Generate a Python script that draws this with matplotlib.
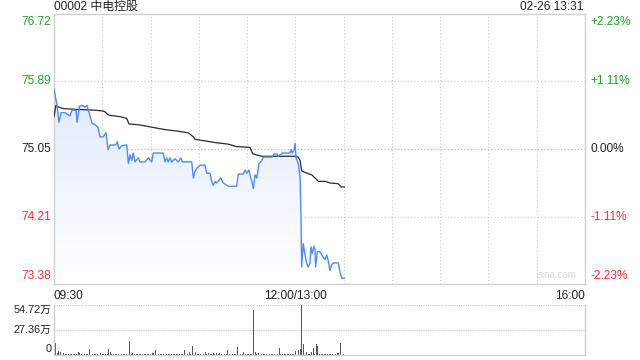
import numpy as np
import matplotlib
matplotlib.use("Agg")
import matplotlib.pyplot as plt

plt.rcParams['font.family'] = ['Liberation Sans', 'Noto Sans CJK SC', 'DejaVu Sans']

# --- data ---
prev_close = 75.05
y_ticks = [73.38, 74.21, 75.05, 75.89, 76.72]
y_labels = ["73.38", "74.21", "75.05", "75.89", "76.72"]
pct_labels = ["-2.23%", "-1.11%", "0.00%", "+1.11%", "+2.23%"]

# minutes since 09:30 (trading minutes, lunch removed)
price_min = [0, 1.9, 3.1, 4.4, 6.8, 9.9, 11.2, 13.7, 14.3, 15.8, 17.4, 19.3, 20.5, 21.8,
             23.6, 25.5, 27.3, 28.6, 30.5, 32.3, 33.6, 34.8, 38.3, 39.3, 40.4, 42.1, 45.2,
             46.2, 47.2, 48.3, 49.3, 50.3, 52.4, 53.4, 56.6, 58.6, 60.7, 61.7, 67.9, 69,
             70, 71, 72.1, 73.1, 75.2, 77.1, 78.9, 79.7, 85.6, 86.6, 87.6, 88.7, 90.7,
             93.8, 94.9, 96.9, 98, 99, 100.1, 101.1, 103.6, 105.2, 108.3, 113.5, 114.5,
             117.6, 118.7, 119.8, 121.2, 121.8, 122.9, 123.9, 124.9, 126, 127.4, 128.6,
             130.1, 135.3, 136.9, 138.6, 139.4, 141.9, 146.7, 147.3, 148.1, 149.2, 149.8,
             150.4, 151.8, 152.9, 153.5, 153.9, 154.9, 156, 157, 158, 159.1, 159.7, 160.5,
             161.6, 162.2, 162.6, 163.6, 165.3, 166.4, 168.4, 169.5, 170.5, 171.5, 172.6,
             173.6, 176.7, 177.7, 178.8, 180.4]
price_val = [75.79, 75.59, 75.38, 75.50, 75.50, 75.46, 75.53, 75.53, 75.38, 75.58, 75.59,
             75.57, 75.59, 75.50, 75.37, 75.35, 75.32, 75.20, 75.20, 75.25, 75.04, 75.10,
             75.10, 75.14, 75.05, 75.09, 75.10, 74.87, 74.98, 74.91, 75.00, 74.89, 74.94,
             74.89, 74.89, 74.94, 74.89, 75.00, 75.00, 74.89, 74.94, 74.89, 74.94, 74.89,
             74.93, 74.89, 74.94, 74.89, 74.89, 74.69, 74.77, 74.81, 74.85, 74.85, 74.75,
             74.75, 74.65, 74.60, 74.65, 74.63, 74.69, 74.63, 74.59, 74.59, 74.74, 74.74,
             74.79, 74.75, 74.79, 74.73, 74.65, 74.56, 74.73, 74.69, 74.87, 74.89, 74.95,
             74.95, 74.99, 74.99, 74.96, 75.00, 75.00, 75.04, 75.00, 75.04, 75.12, 74.94,
             74.87, 74.71, 74.21, 73.59, 73.88, 73.74, 73.64, 73.59, 73.64, 73.84, 73.76,
             73.85, 73.80, 73.59, 73.78, 73.78, 73.74, 73.68, 73.74, 73.66, 73.55, 73.62,
             73.64, 73.64, 73.53, 73.45, 73.45]

avg_min = [0, 1.2, 2.7, 5.8, 14.1, 25.5, 30.6, 31.7, 33.7, 41, 45.2, 46.6, 52.4, 55.5,
           60.7, 69, 77.2, 83.5, 86.6, 87.6, 93.8, 100.1, 108.3, 113.5, 121.8, 123.5,
           129.1, 149.8, 151.8, 152.9, 153.9, 154.9, 156, 160.2, 163.3, 164.3, 168.4,
           171.5, 176.7, 178.4, 180.4]
avg_val = [75.45, 75.59, 75.57, 75.55, 75.54, 75.53, 75.52, 75.51, 75.47, 75.45, 75.43,
           75.36, 75.35, 75.34, 75.32, 75.29, 75.27, 75.25, 75.20, 75.17, 75.15, 75.13,
           75.11, 75.08, 75.07, 74.99, 74.96, 74.96, 74.95, 74.91, 74.78, 74.77, 74.76,
           74.73, 74.67, 74.65, 74.65, 74.63, 74.62, 74.58, 74.58]

# volume per minute, in 万
volume = [13.5, 13.2, 2.0, 4.7, 3.6, 1.5, 1.8, 0.8, 1.2, 0.6,
          1.0, 0.7, 1.5, 0.9, 1.2, 2.9, 2.5, 1.0, 2.2, 0.8,
          1.1, 0.6, 6.6, 1.2, 0.9, 1.5, 0.7, 1.0, 0.8, 2.5,
          1.0, 1.5, 0.8, 1.2, 6.6, 3.0, 1.1, 0.7, 1.3, 0.9,
          0.8, 1.2, 0.6, 1.0, 1.4, 0.8, 1.1, 15.3, 1.0, 2.5,
          1.2, 0.8, 1.0, 0.7, 1.3, 0.9, 1.1, 0.8, 1.5, 1.0,
          0.9, 2.5, 2.0, 5.5, 3.0, 1.2, 0.8, 1.0, 0.7, 0.9,
          1.1, 0.8, 0.6, 1.0, 0.9, 1.2, 0.7, 0.8, 1.0, 1.3,
          0.9, 5.5, 1.0, 1.4, 3.0, 1.2, 10.2, 11.7, 3.5, 1.0,
          0.8, 1.2, 1.0, 1.5, 3.0, 1.1, 2.0, 0.9, 1.2, 2.5,
          1.0, 2.0, 0.8, 2.5, 1.1, 0.9, 1.3, 0.8, 5.5, 1.0,
          3.0, 1.2, 1.0, 0.8, 9.1, 1.4, 1.0, 0.9, 3.0, 0.7,
          1.5, 1.0, 0.8, 1.2, 49.2, 3.0, 1.0, 2.0, 1.1, 0.8,
          1.0, 0.9, 1.2, 0.7, 1.1, 0.8, 1.3, 0.9, 1.0, 1.2,
          8.0, 1.0, 0.8, 1.2, 0.9, 1.1, 0.8, 1.5, 1.0, 1.3,
          4.4, 1.2, 5.5, 6.7, 54.72, 12.0, 1.5, 3.0, 1.2, 1.0,
          3.5, 7.3, 1.2, 12.0, 10.2, 1.0, 0.8, 1.5, 0.9, 1.1,
          0.8, 1.2, 1.0, 0.9, 1.3, 0.8, 2.0, 2.5, 13.5, 2.0,
          1.5]
vol_ticks = [0, 27.36, 54.72]
vol_labels = ["0", "27.36万", "54.72万"]

x_tick_pos = [0, 150, 330]
x_tick_labels = ["09:30", "12:00/13:00", "16:00"]

GREEN = "#1fa51f"
RED = "#f23030"
GRID = "#c8c8c8"
FRAME = "#cfcfcf"
FS = 8.6

fig = plt.figure(figsize=(6.4, 3.6), dpi=100)
ax = fig.add_axes([54 / 640, 1 - 284 / 360, 531 / 640, 270 / 360])
axv = fig.add_axes([54 / 640, 1 - 355 / 360, 531 / 640, 50 / 360])

# --- price panel ---
ax.set_xlim(0, 330)
ax.set_ylim(y_ticks[0], y_ticks[-1])

for yt in y_ticks[1:-1]:
    ax.axhline(yt, color="#b0b0b0" if yt == prev_close else GRID, lw=0.8, ls=(0, (1, 2)), zorder=1)
for xt in range(30, 330, 30):
    ax.axvline(xt, color=GRID, lw=0.8, ls=(0, (1, 2)), zorder=1)

# gradient fill below the price line
poly = ax.fill_between(price_min, price_val, y_ticks[0], color="none", lw=0)
grad = np.linspace(0, 1, 256).reshape(-1, 1)
cmap = matplotlib.colors.LinearSegmentedColormap.from_list("g", ["#ffffff", "#d6e3fa"])
img = ax.imshow(grad, cmap=cmap, aspect="auto", origin="lower",
                extent=[0, 330, y_ticks[0], y_ticks[-1]], zorder=2)
img.set_clip_path(poly.get_paths()[0], transform=ax.transData)

ax.plot(avg_min, avg_val, color="#2b2b2b", lw=0.9, zorder=4)
ax.plot(price_min, price_val, color="#4d8df5", lw=1.0, zorder=5)

ax.set_xticks([])
ax.set_yticks([])
for sp in ax.spines.values():
    sp.set_color(FRAME)
    sp.set_linewidth(1.0)

for i, (yt, lab, pct) in enumerate(zip(y_ticks, y_labels, pct_labels)):
    if yt > prev_close:
        col = GREEN
    elif yt < prev_close:
        col = RED
    else:
        col = "#222222"
    frac = (yt - y_ticks[0]) / (y_ticks[-1] - y_ticks[0])
    if i == 0:
        va, frac = "bottom", frac + 0.008
    elif i == len(y_ticks) - 1:
        va, frac = "top", frac - 0.008
    else:
        va = "center"
    ax.text(-0.005, frac, lab, transform=ax.transAxes,
            ha="right", va=va, fontsize=FS, color=col)
    ax.text(1.011, frac, pct, transform=ax.transAxes,
            ha="left", va=va, fontsize=FS, color=col)

for xp, lab in zip(x_tick_pos, x_tick_labels):
    ha = "left" if xp == 0 else ("right" if xp == 330 else "center")
    ax.text(xp, -0.022, lab, transform=ax.get_xaxis_transform(), ha=ha, va="top",
            fontsize=FS, color="#222222")

ax.text(0.0, 1.027, "00002 中电控股", transform=ax.transAxes, ha="left", va="center",
        fontsize=FS, color="#222222")
ax.text(0.997, 1.027, "02-26 13:31", transform=ax.transAxes, ha="right", va="center",
        fontsize=FS, color="#222222")
ax.text(0.985, 0.015, "sina.com", transform=ax.transAxes, ha="right", va="bottom",
        fontsize=7, color="#d8d8d8")

# --- volume panel ---
axv.set_xlim(0, 330)
axv.set_ylim(0, vol_ticks[-1])
axv.bar(np.arange(len(volume)), volume, width=0.55, color="#555555", lw=0)
for vt in vol_ticks[1:]:
    axv.axhline(vt, color=GRID, lw=0.8, ls=(0, (1, 1)), zorder=0)
axv.set_xticks([])
axv.set_yticks([])
axv.spines["top"].set_visible(False)
for s in ["left", "right", "bottom"]:
    axv.spines[s].set_color(FRAME)
    axv.spines[s].set_linewidth(1.0)
axv.text(-0.005, 1.0, vol_labels[2], transform=axv.transAxes, ha="right", va="top",
         fontsize=7.8, color="#222222")
axv.text(-0.005, 0.5, vol_labels[1], transform=axv.transAxes, ha="right", va="center",
         fontsize=7.8, color="#222222")
axv.text(-0.005, 0.02, vol_labels[0], transform=axv.transAxes, ha="right", va="bottom",
         fontsize=7.8, color="#222222")

fig.savefig("out.png", dpi=100)
